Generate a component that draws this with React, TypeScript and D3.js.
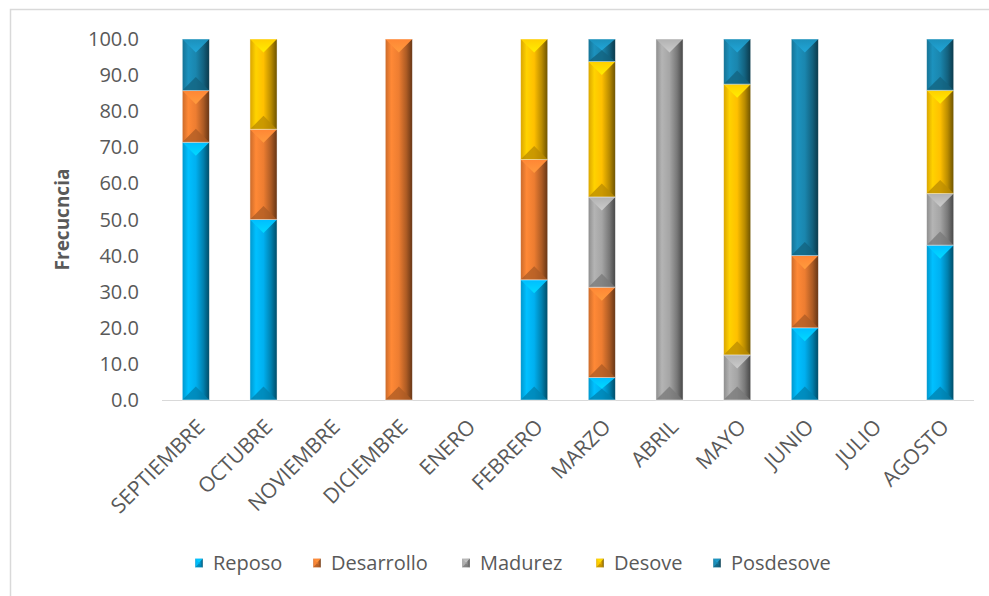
import React from "react";
import * as d3 from "d3";

const categories = ["SEPTIEMBRE", "OCTUBRE", "NOVIEMBRE", "DICIEMBRE", "ENERO", "FEBRERO", "MARZO", "ABRIL", "MAYO", "JUNIO", "JULIO", "AGOSTO"];
const seriesNames = ["Reposo", "Desarrollo", "Madurez", "Desove", "Posdesove"];
const reposo = [71.4, 50, 0, 0, 0, 33.3, 6.25, 0, 0, 20, 0, 42.9];
const desarrollo = [14.3, 25, 0, 100, 0, 33.3, 25, 0, 0, 20, 0, 0];
const madurez = [0, 0, 0, 0, 0, 0, 25, 100, 12.5, 0, 0, 14.3];
const desove = [0, 25, 0, 0, 0, 33.4, 37.5, 0, 75, 0, 0, 28.6];
const posdesove = [14.3, 0, 0, 0, 0, 0, 6.25, 0, 12.5, 60, 0, 14.2];
const yTicks = [0, 10, 20, 30, 40, 50, 60, 70, 80, 90, 100];
const colors = ["#00B0F0", "#ED7D31", "#A5A5A5", "#FFC000", "#1A86AE"];
const yTitle = "Frecucncia";

const W = 989, H = 596;
const M = { left: 162, right: 974, top: 39, bottom: 400 };
const FONT = "'Open Sans', 'Liberation Sans', sans-serif";
const TXT = "#595959";

function Bevel({ x0, x1, y0, y1, i }: { x0: number; x1: number; y0: number; y1: number; i: number }) {
  const w = x1 - x0, h = y1 - y0;
  if (h <= 0.01) return null;
  const d = Math.min(w / 2, h / 2);
  const cx = (x0 + x1) / 2;
  const c = d3.color(colors[i])!;
  return (
    <g>
      <rect x={x0} y={y0} width={w} height={h} fill={`url(#hg${i})`} />
      <polygon points={`${x0},${y0} ${x1},${y0} ${cx},${y0 + d}`} fill={`url(#tg${i})`} />
      <polygon points={`${x0},${y1} ${x1},${y1} ${cx},${y1 - d}`} fill={c.darker(0.9).formatHex()} opacity={0.75} />
      <rect x={x0} y={y0} width={w} height={h} fill="none" stroke="#ffffff" strokeOpacity={0.55} strokeWidth={0.8} />
    </g>
  );
}

export default function App() {
  const x = d3.scaleBand<string>().domain(categories).range([M.left, M.right]).paddingInner(0.6).paddingOuter(0.3);
  const y = d3.scaleLinear().domain([0, 100]).range([M.bottom, M.top]);
  const rows = categories.map((c, j) => ({
    cat: c,
    Reposo: reposo[j],
    Desarrollo: desarrollo[j],
    Madurez: madurez[j],
    Desove: desove[j],
    Posdesove: posdesove[j],
  }));
  const stack = d3.stack<any>().keys(seriesNames)(rows);

  const legendX = [195, 313, 462, 596, 713];
  const legendY = 563;

  return (
    <svg width={W} height={H} style={{ position: "absolute", left: 0, top: 0 }} fontFamily={FONT}>
      <defs>
        {colors.map((col, i) => {
          const c = d3.color(col)!;
          return (
            <React.Fragment key={i}>
              <linearGradient id={`hg${i}`} x1="0" x2="1" y1="0" y2="0">
                <stop offset="0%" stopColor={c.darker(0.45).formatHex()} />
                <stop offset="22%" stopColor={c.brighter(0.25).formatHex()} />
                <stop offset="50%" stopColor={c.formatHex()} />
                <stop offset="78%" stopColor={c.darker(0.9).formatHex()} />
                <stop offset="100%" stopColor={c.darker(2.4).formatHex()} />
              </linearGradient>
              <linearGradient id={`tg${i}`} x1="0" x2="0" y1="0" y2="1">
                <stop offset="0%" stopColor={c.brighter(0.2).formatHex()} />
                <stop offset="100%" stopColor={c.brighter(0.6).formatHex()} />
              </linearGradient>
            </React.Fragment>
          );
        })}
      </defs>
      <rect x={0} y={0} width={W} height={H} fill="#ffffff" />
      <rect x={10.5} y={9.5} width={W + 20} height={H + 20} fill="#ffffff" stroke="#d9d9d9" strokeWidth={1.5} />

      {yTicks.map((t) => (
        <text key={t} x={139} y={y(t)} dy="0.35em" textAnchor="end" fontSize={20} fill={TXT}>
          {t.toFixed(1)}
        </text>
      ))}
      <text transform={`translate(62, ${(M.top + M.bottom) / 2}) rotate(-90)`} textAnchor="middle" dy="0.35em" fontSize={19} fontWeight="bold" fill={TXT}>
        {yTitle}
      </text>

      <line x1={M.left} x2={M.right} y1={M.bottom + 0.5} y2={M.bottom + 0.5} stroke="#d9d9d9" strokeWidth={1} />

      {stack.map((s, i) =>
        s.map((seg: any, j: number) => {
          const x0 = x(categories[j])!;
          return <Bevel key={`${i}-${j}`} i={i} x0={x0} x1={x0 + x.bandwidth()} y0={y(seg[1])} y1={y(seg[0])} />;
        })
      )}

      {categories.map((c) => {
        const cx = x(c)! + x.bandwidth() / 2;
        return (
          <text key={c} transform={`translate(${cx + 5}, ${M.bottom + 23}) rotate(-45)`} textAnchor="end" dy="0.35em" fontSize={21} fill={TXT}>
            {c}
          </text>
        );
      })}

      {seriesNames.map((n, i) => (
        <g key={n}>
          <Bevel i={i} x0={legendX[i]} x1={legendX[i] + 8} y0={legendY - 4.5} y1={legendY + 4.5} />
          <text x={legendX[i] + 18} y={legendY} dy="0.35em" fontSize={20} fill={TXT}>
            {n}
          </text>
        </g>
      ))}
    </svg>
  );
}
